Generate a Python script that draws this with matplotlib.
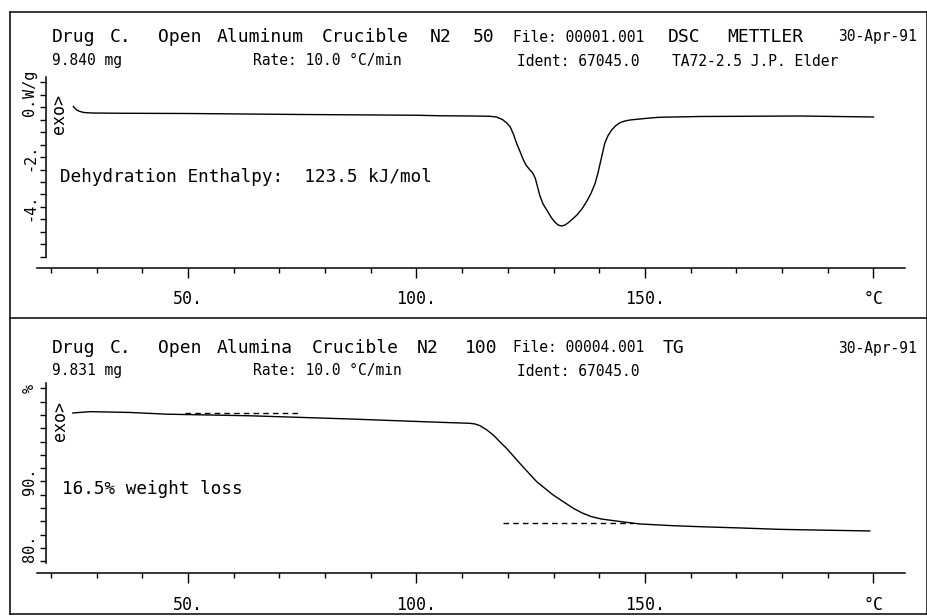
import matplotlib
matplotlib.use("Agg")
import matplotlib.pyplot as plt
from matplotlib.lines import Line2D
from matplotlib.ticker import FixedLocator, MultipleLocator

plt.rcParams['font.family'] = ['DejaVu Sans Mono']

# DSC trace, heat flow in W/g vs temperature in C
dsc_temp = [24.9, 25.5, 26.2, 27.2, 29.0, 35.0, 50.0, 75.0, 100.0, 105.1, 112.0, 116.0,
            117.5, 118.8, 119.7, 120.5, 121.2, 121.9, 122.7, 123.4, 124.0, 124.7, 125.4,
            126.0, 126.5, 127.0, 127.7, 128.5, 129.5, 130.3, 131.0, 131.8, 132.5, 133.2,
            134.1, 135.1, 136.2, 137.2, 138.2, 139.1, 139.7, 140.2, 140.7, 141.2, 141.9,
            142.7, 143.6, 144.5, 145.6, 146.7, 148.9, 151.0, 153.3, 162.0, 184.0, 200.0]
dsc_flow = [0.02, -0.10, -0.17, -0.22, -0.24, -0.25, -0.26, -0.30, -0.33, -0.35, -0.36, -0.37,
            -0.40, -0.50, -0.63, -0.79, -1.08, -1.45, -1.80, -2.12, -2.33, -2.49, -2.63,
            -2.85, -3.20, -3.55, -3.88, -4.12, -4.42, -4.61, -4.72, -4.76, -4.72, -4.63,
            -4.49, -4.32, -4.08, -3.79, -3.45, -3.05, -2.65, -2.25, -1.85, -1.45, -1.15,
            -0.92, -0.75, -0.63, -0.56, -0.52, -0.48, -0.44, -0.41, -0.38, -0.36, -0.40]

# TG trace, mass in % vs temperature in C
tg_temp = [24.8, 28.6, 37.3, 45.4, 63.6, 85.4, 105.1, 111.7, 112.8, 113.9, 115.3, 116.8,
           118.2, 119.7, 122.6, 126.3, 129.9, 134.3, 136.3, 138.3, 140.5, 143.1, 146.0,
           148.9, 156.2, 162.0, 170.8, 179.5, 189.0, 199.2]
tg_mass = [100.30, 100.50, 100.38, 100.12, 99.88, 99.40, 98.90, 98.75, 98.65, 98.39, 97.80, 96.99,
           96.00, 94.99, 92.74, 89.97, 87.97, 85.97, 85.25, 84.71, 84.35, 84.11, 83.85,
           83.61, 83.35, 83.20, 83.01, 82.80, 82.68, 82.56]

# tangent lines used for the weight loss step
onset_temp = [49.3, 74.1]
onset_mass = [100.28, 100.28]
end_temp = [118.9, 147.4]
end_mass = [83.71, 83.71]

x_ticks = [50, 100, 150, 200]
x_labels = ['50.', '100.', '150.', '°C']
dsc_ticks = [-4, -2, 0]
dsc_labels = ['-4.', '-2.', '0.']
tg_ticks = [80, 90, 104]
tg_labels = ['80.', '90.', '%']

W, H = 928, 616


def fx(x):
    return x / W


def fy(y):
    return 1 - y / H


def put(x, y, s, size, **kw):
    fig.text(fx(x), fy(y), s, fontsize=size, ha=kw.pop('ha', 'left'), va='center', **kw)


def style_axes(ax, offset):
    for side in ['top', 'right']:
        ax.spines[side].set_visible(False)
    ax.spines['bottom'].set_position(('outward', offset))
    ax.spines['left'].set_position(('axes', 9 / 868))
    for side in ['left', 'bottom']:
        ax.spines[side].set_linewidth(1.1)
    ax.set_xlim(16.96, 206.9)
    ax.xaxis.set_major_locator(FixedLocator(x_ticks))
    ax.set_xticklabels(x_labels)
    ax.xaxis.set_minor_locator(MultipleLocator(10))
    ax.tick_params(axis='x', which='major', length=7.2, width=1.0, pad=9, labelsize=12)
    ax.tick_params(axis='x', which='minor', length=3.6, width=1.0)
    ax.tick_params(axis='y', which='both', length=4.3, width=1.0, pad=2,
                   labelsize=11, labelrotation=90)
    for lab in ax.get_yticklabels():
        lab.set_va('center')


fig = plt.figure(figsize=(9.28, 6.16), dpi=100)

# outer frame and divider
for xs, ys in [([10, 927], [12, 12]), ([10, 927], [614, 614]), ([10, 10], [12, 614]),
               ([927, 927], [12, 614]), ([10, 927], [318, 318])]:
    fig.add_artist(Line2D([fx(v) for v in xs], [fy(v) for v in ys], color='black', lw=1.1))

# --- DSC panel ---
ax1 = fig.add_axes([fx(37), fy(257), fx(868), 180 / H])
ax1.plot(dsc_temp, dsc_flow, color='black', lw=1.0)
ax1.set_ylim(-6.0, 1.2)
ax1.yaxis.set_major_locator(FixedLocator(dsc_ticks))
ax1.set_yticklabels(dsc_labels)
ax1.yaxis.set_minor_locator(MultipleLocator(0.5))
style_axes(ax1, 7.9)

# --- TG panel ---
ax2 = fig.add_axes([fx(37), fy(563), fx(868), 180 / H])
ax2.plot(tg_temp, tg_mass, color='black', lw=1.0)
ax2.plot(onset_temp, onset_mass, color='black', lw=1.0, ls=(0, (4, 3)))
ax2.plot(end_temp, end_mass, color='black', lw=1.0, ls=(0, (4, 3)))
ax2.set_ylim(77.74, 104.81)
ax2.yaxis.set_major_locator(FixedLocator(tg_ticks))
ax2.set_yticklabels(tg_labels)
ax2.yaxis.set_minor_locator(MultipleLocator(2))
style_axes(ax2, 7.2)

# headers
big, small = 13, 10.5
top_line1 = [(52, 'Drug'), (110, 'C.'), (158, 'Open'), (217, 'Aluminum'), (322, 'Crucible'),
             (430, 'N2'), (473, '50'), (668, 'DSC'), (727, 'METTLER')]
top_line2 = [(52, '9.840 mg'), (253, 'Rate: 10.0 °C/min'), (517, 'Ident: 67045.0'),
             (672, 'TA72-2.5 J.P. Elder')]
for x, s in top_line1:
    put(x, 37, s, big)
put(513, 37, 'File: 00001.001', small)
put(917, 37, '30-Apr-91', small, ha='right')
for x, s in top_line2:
    put(x, 61, s, small)

bot_line1 = [(52, 'Drug'), (110, 'C.'), (158, 'Open'), (217, 'Alumina'), (312, 'Crucible'),
             (417, 'N2'), (465, '100'), (663, 'TG')]
bot_line2 = [(52, '9.831 mg'), (253, 'Rate: 10.0 °C/min'), (517, 'Ident: 67045.0')]
for x, s in bot_line1:
    put(x, 348, s, big)
put(513, 348, 'File: 00004.001', small)
put(917, 348, '30-Apr-91', small, ha='right')
for x, s in bot_line2:
    put(x, 371, s, small)

# side labels and notes
put(31, 84, 'W/g', 11, ha='center', rotation=90)
put(59, 114, 'exo>', 12, ha='center', rotation=90)
put(60, 421, 'exo>', 12, ha='center', rotation=90)
put(60, 177, 'Dehydration Enthalpy:  123.5 kJ/mol', 12.7)
put(62, 489, '16.5% weight loss', 12.7)

fig.savefig('out.png', dpi=100)
